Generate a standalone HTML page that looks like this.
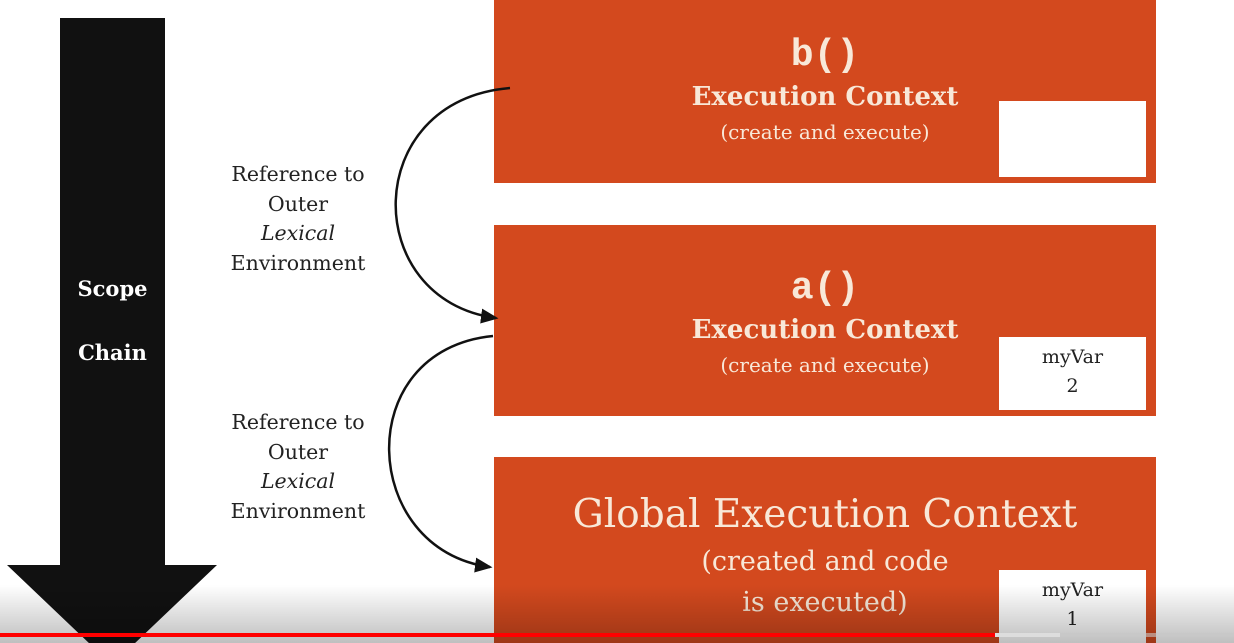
<!DOCTYPE html>
<html><head><style>
body{margin:0;width:1234px;height:643px;overflow:hidden;background:#fff;position:relative;font-family:"DejaVu Serif","Liberation Serif",serif}
.box{position:absolute;left:494px;width:662px;background:#d3491e;color:#f8e8d8;text-align:center}
.wb{position:absolute;left:999px;width:147px;background:#fff;color:#222;text-align:center;font-size:19px;line-height:29px}
.t{position:absolute;width:100%;left:0;text-align:center;white-space:nowrap}
.lbl{position:absolute;left:198px;width:200px;text-align:center;font-size:20.5px;line-height:29.5px;color:#222}
</style></head><body>
<div class="box" style="top:0;height:183px">
 <div class="t" style="top:34px;font:bold 38px 'Liberation Mono',monospace">b()</div>
 <div class="t" style="top:82px;font-size:26px;font-weight:bold">Execution Context</div>
 <div class="t" style="top:120px;font-size:20px">(create and execute)</div>
</div>
<div class="wb" style="top:101px;height:76px"></div>
<div class="box" style="top:225px;height:191px">
 <div class="t" style="top:42px;font:bold 38px 'Liberation Mono',monospace">a()</div>
 <div class="t" style="top:90px;font-size:26px;font-weight:bold">Execution Context</div>
 <div class="t" style="top:128px;font-size:20px">(create and execute)</div>
</div>
<div class="wb" style="top:337px;height:73px;padding-top:6px;box-sizing:border-box">myVar<br>2</div>
<div class="box" style="top:457px;height:186px">
 <div class="t" style="top:35px;font-size:39px">Global Execution Context</div>
 <div class="t" style="top:84px;font-size:27px;line-height:41px">(created and code<br>is executed)</div>
</div>
<div class="wb" style="top:570px;height:73px;padding-top:6px;box-sizing:border-box">myVar<br>1</div>
<div class="lbl" style="top:160px">Reference to<br>Outer<br><i>Lexical</i><br>Environment</div>
<div class="lbl" style="top:408px">Reference to<br>Outer<br><i>Lexical</i><br>Environment</div>
<svg style="position:absolute;left:0;top:0" width="1234" height="643">
 <defs><marker id="m" markerWidth="8" markerHeight="8" refX="6" refY="4" orient="auto"><path d="M0,1 L7,4 L0,7z" fill="#111"/></marker></defs>
 <path d="M60,18 H165 V565 H217 L112,665 L7,565 H60Z" fill="#111"/>
 <path d="M510,88 C360,100 360,300 496,318" fill="none" stroke="#111" stroke-width="2.5" marker-end="url(#m)"/>
 <path d="M493,336 C350,350 360,550 490,567" fill="none" stroke="#111" stroke-width="2.5" marker-end="url(#m)"/>
</svg>
<div style="position:absolute;left:50px;width:125px;top:257px;text-align:center;color:#fff;font-weight:bold;font-size:21px;line-height:64px">Scope<br>Chain</div>
<div style="position:absolute;left:0;top:585px;width:1234px;height:58px;background:linear-gradient(rgba(0,0,0,0),rgba(0,0,0,0.25))"></div>
<div style="position:absolute;left:0;top:633px;width:1234px;height:4px;background:rgba(200,200,200,0.6)"></div>
<div style="position:absolute;left:995px;top:633px;width:65px;height:4px;background:#ddd"></div>
<div style="position:absolute;left:0;top:633px;width:995px;height:4px;background:#f00"></div>
</body></html>
